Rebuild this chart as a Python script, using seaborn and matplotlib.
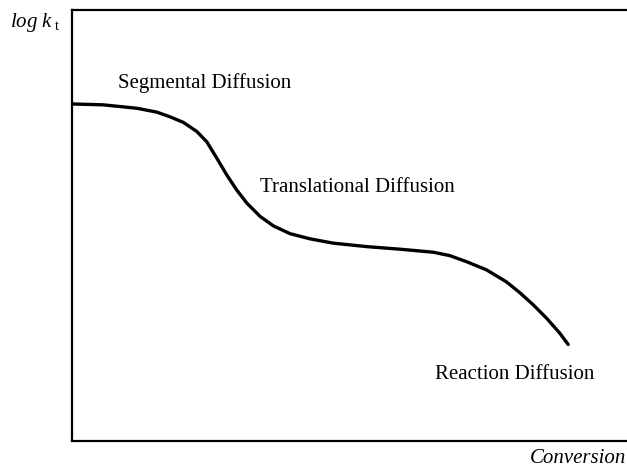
import matplotlib
matplotlib.use("Agg")
import matplotlib.pyplot as plt
import seaborn as sns
import pandas as pd

# Termination rate constant vs. conversion (schematic, axes in relative units)
conversion = [0.000, 0.056, 0.117, 0.153, 0.177, 0.201, 0.225, 0.243, 0.261,
              0.279, 0.297, 0.315, 0.339, 0.363, 0.393, 0.429, 0.471,
              0.531, 0.591, 0.651, 0.681, 0.711, 0.747, 0.783, 0.807, 0.831,
              0.855, 0.879, 0.894]
log_kt = [0.782, 0.780, 0.772, 0.763, 0.752, 0.739, 0.718, 0.694, 0.656,
          0.617, 0.582, 0.552, 0.521, 0.499, 0.481, 0.469, 0.459,
          0.451, 0.445, 0.438, 0.430, 0.416, 0.397, 0.369, 0.344, 0.316,
          0.285, 0.250, 0.224]

regime_labels = ["Segmental Diffusion", "Translational Diffusion", "Reaction Diffusion"]
regime_x = [0.083, 0.339, 0.654]
regime_y = [0.819, 0.578, 0.144]

sns.set_theme(style="white")
plt.rcParams["font.family"] = ["Liberation Serif", "DejaVu Serif"]
plt.rcParams["mathtext.fontset"] = "custom"
plt.rcParams["mathtext.rm"] = "Liberation Serif"
plt.rcParams["mathtext.it"] = "Liberation Serif:italic"

df = pd.DataFrame({"conversion": conversion, "log_kt": log_kt})

fig = plt.figure(figsize=(6.27, 4.67), dpi=100)
ax = fig.add_axes([72 / 627, 26 / 467, 555 / 627, 431 / 467])

sns.lineplot(data=df, x="conversion", y="log_kt", ax=ax, color="black",
             linewidth=2.4, sort=False, solid_joinstyle="round",
             solid_capstyle="round")

ax.set_xlim(0, 1)
ax.set_ylim(0, 1)
ax.set_xticks([])
ax.set_yticks([])
ax.set_xlabel("")
ax.set_ylabel("")
for side in ("left", "top", "bottom"):
    ax.spines[side].set_visible(True)
    ax.spines[side].set_color("black")
    ax.spines[side].set_linewidth(1.6)
ax.spines["right"].set_visible(False)

for label, x, y in zip(regime_labels, regime_x, regime_y):
    ax.text(x, y, label, transform=ax.transAxes, fontsize=15,
            ha="left", va="baseline", color="black")

fig.text(10 / 627, 1 - 27 / 467, r"$\mathit{log\ k}_{\ \mathrm{t}}$",
         fontsize=15, ha="left", va="baseline", color="black")
fig.text(626 / 627, 1 - 463 / 467, "Conversion", fontsize=15, style="italic",
         ha="right", va="baseline", color="black")

fig.savefig("out.png", dpi=100, facecolor="white")
